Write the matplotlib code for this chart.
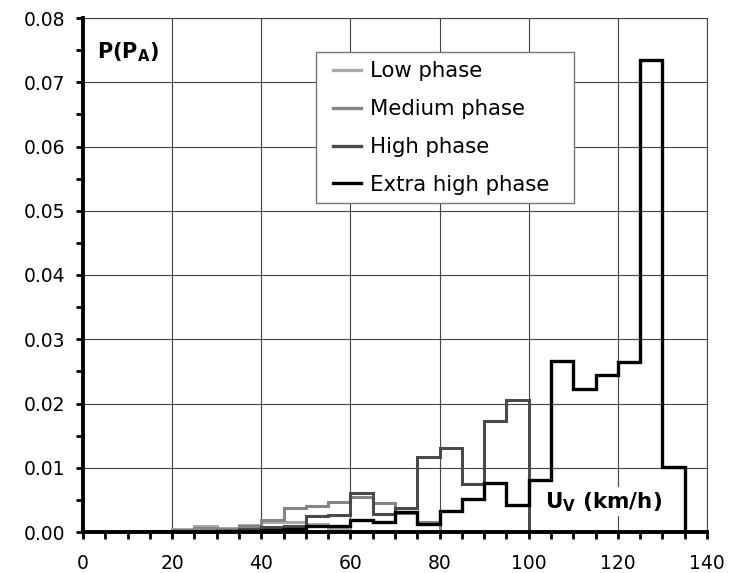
import matplotlib
matplotlib.use("Agg")
import matplotlib.pyplot as plt
from matplotlib.lines import Line2D
from matplotlib.patches import Rectangle
import numpy as np

# bin edges (km/h)
edges = list(range(0, 145, 5))
series_names = ["Low phase", "Medium phase", "High phase", "Extra high phase"]

low = [0, 0, 0.0001, 0.0002, 0.0005, 0.0009, 0.0007, 0.0011, 0.0015, 0.0016,
       0.0012, 0.0006, 0, 0, 0, 0, 0, 0, 0, 0, 0, 0, 0, 0, 0, 0, 0, 0]
medium = [0, 0, 0, 0.0001, 0.0003, 0.0006, 0.0005, 0.0009, 0.0019, 0.0037,
          0.0041, 0.0046, 0.0055, 0.0045, 0.0030, 0.0015, 0, 0, 0, 0,
          0, 0, 0, 0, 0, 0, 0, 0]
high = [0, 0, 0, 0, 0, 0, 0.0002, 0.0004, 0.0008, 0.0009,
        0.0025, 0.0027, 0.0060, 0.0028, 0.0038, 0.0117, 0.0130, 0.0074, 0.0172, 0.0206,
        0, 0, 0, 0, 0, 0, 0, 0]
extra = [0, 0, 0, 0, 0, 0, 0.0001, 0.0002, 0.0003, 0.0004,
         0.0010, 0.0010, 0.0019, 0.0016, 0.0031, 0.0012, 0.0033, 0.0052, 0.0076, 0.0042,
         0.0081, 0.0266, 0.0223, 0.0244, 0.0264, 0.0735, 0.0101, 0]

x_ticks = [0, 20, 40, 60, 80, 100, 120, 140]
y_ticks = [0.00, 0.01, 0.02, 0.03, 0.04, 0.05, 0.06, 0.07, 0.08]

colors = ["#aaaaaa", "#858585", "#4a4a4a", "#000000"]
widths = [2.2, 2.2, 2.2, 2.4]

fig = plt.figure(figsize=(7.29, 5.73), dpi=100)
ax = fig.add_axes([83/729, 1-532/573, 624/729, 514/573])

for vals, c, w in zip([low, medium, high, extra], colors, widths):
    ax.stairs(vals, edges, baseline=0, color=c, linewidth=w, fill=False)

ax.set_xlim(0, 140)
ax.set_ylim(0, 0.08)
ax.set_xticks(x_ticks)
ax.set_yticks(y_ticks)
ax.set_yticklabels([f"{v:.2f}" for v in y_ticks])
ax.set_xticks(np.arange(0, 141, 5), minor=True)
ax.set_yticks(np.arange(0, 0.0801, 0.005), minor=True)
ax.grid(True, which="major", color="#444444", linewidth=0.8)
ax.set_axisbelow(True)

for s in ["left", "bottom"]:
    ax.spines[s].set_linewidth(2.8)
    ax.spines[s].set_zorder(5)
for s in ["top", "right"]:
    ax.spines[s].set_linewidth(0.8)
    ax.spines[s].set_color("#444444")

ax.tick_params(axis="both", which="both", direction="out", width=2, length=5,
               labelsize=13.5, colors="black", top=False, right=False)
ax.tick_params(axis="x", which="major", pad=11)
ax.tick_params(axis="y", which="major", pad=8)

ax.text(3.1, 0.0747, "P(P$_\\mathbf{A}$)", fontsize=15, fontweight="bold",
        va="center", ha="left")
ax.text(103.7, 0.0047, "U$_\\mathbf{V}$ (km/h)", fontsize=15.5, fontweight="bold",
        va="center", ha="left",
        bbox=dict(facecolor="white", edgecolor="none", pad=2))

# legend frame
frame = Rectangle((0.3734, 0.640), 0.7869 - 0.3734, 0.934 - 0.640,
                  transform=ax.transAxes, facecolor="white", edgecolor="#777777",
                  linewidth=1.0, zorder=6)
ax.add_patch(frame)

handles = [Line2D([0], [0], color=c, linewidth=2.4) for c in colors]
leg = ax.legend(handles, series_names, loc="upper left",
                bbox_to_anchor=(0.4006, 0.9156), fontsize=15.3, frameon=False,
                handlelength=1.3, handletextpad=0.45, labelspacing=0.84,
                borderpad=0, borderaxespad=0)
leg.set_zorder(7)

fig.savefig("out.png", dpi=100)
